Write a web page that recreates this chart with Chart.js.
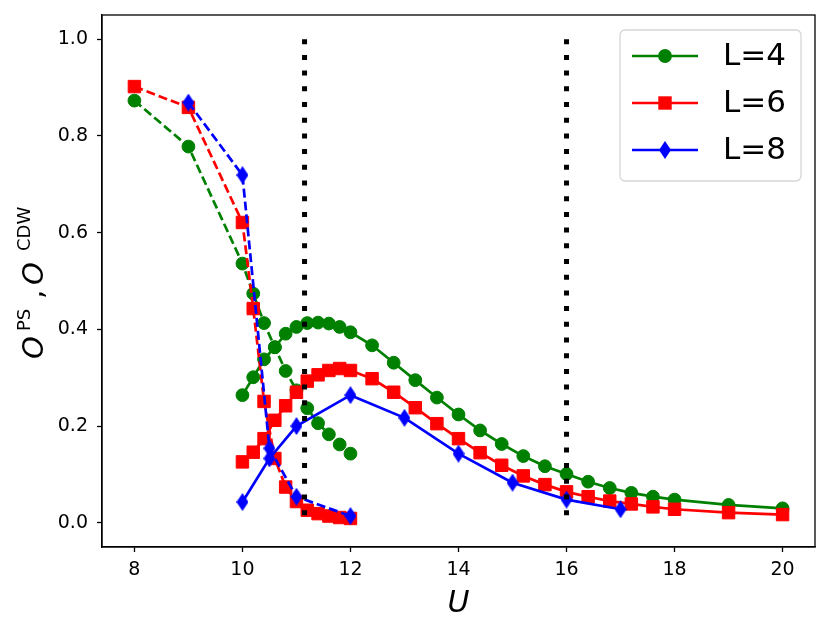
<!DOCTYPE html>
<html>
<head>
<meta charset="utf-8">
<script src="https://cdn.jsdelivr.net/npm/chart.js@4.4.1/dist/chart.umd.min.js"></script>
<style>
  html, body { margin: 0; padding: 0; background: #fff; }
  #wrap { width: 831px; height: 634px; }
</style>
</head>
<body>
<div id="wrap"><canvas id="chart" width="831" height="634"></canvas></div>
<script>
// x ticks / y ticks
const xTicks = [8, 10, 12, 14, 16, 18, 20];
const yTicks = [0.0, 0.2, 0.4, 0.6, 0.8, 1.0];

// L=4
const l4SolidU = [10, 10.2, 10.4, 10.6, 10.8, 11, 11.2, 11.4, 11.6, 11.8, 12, 12.4, 12.8, 13.2, 13.6, 14, 14.4, 14.8, 15.2, 15.6, 16, 16.4, 16.8, 17.2, 17.6, 18, 19, 20];
const l4SolidO = [0.264, 0.301, 0.338, 0.363, 0.391, 0.405, 0.413, 0.414, 0.412, 0.405, 0.394, 0.367, 0.331, 0.295, 0.259, 0.224, 0.191, 0.163, 0.138, 0.117, 0.101, 0.085, 0.072, 0.062, 0.054, 0.048, 0.037, 0.030];
const l4DashU = [8, 9, 10, 10.2, 10.4, 10.6, 10.8, 11, 11.2, 11.4, 11.6, 11.8, 12];
const l4DashO = [0.873, 0.778, 0.536, 0.474, 0.413, 0.363, 0.314, 0.274, 0.237, 0.206, 0.183, 0.162, 0.143];

// L=6
const l6SolidU = [10, 10.2, 10.4, 10.6, 10.8, 11, 11.2, 11.4, 11.6, 11.8, 12, 12.4, 12.8, 13.2, 13.6, 14, 14.4, 14.8, 15.2, 15.6, 16, 16.4, 16.8, 17.2, 17.6, 18, 19, 20];
const l6SolidO = [0.126, 0.146, 0.174, 0.212, 0.242, 0.270, 0.293, 0.306, 0.315, 0.319, 0.315, 0.298, 0.270, 0.238, 0.205, 0.174, 0.145, 0.119, 0.097, 0.079, 0.064, 0.054, 0.045, 0.039, 0.033, 0.028, 0.021, 0.017];
const l6DashU = [8, 9, 10, 10.2, 10.4, 10.6, 10.8, 11, 11.2, 11.4, 11.6, 11.8, 12];
const l6DashO = [0.902, 0.859, 0.621, 0.443, 0.251, 0.133, 0.074, 0.044, 0.026, 0.019, 0.014, 0.011, 0.009];

// L=8
const l8SolidU = [10, 10.5, 11, 12, 13, 14, 15, 16, 17];
const l8SolidO = [0.043, 0.133, 0.200, 0.264, 0.217, 0.143, 0.083, 0.048, 0.028];
const l8DashU = [9, 10, 10.5, 11, 12];
const l8DashO = [0.869, 0.719, 0.154, 0.054, 0.014];

// vertical markers
const markerU = [11.15, 16];

const GREEN = "#008000", RED = "#ff0000", BLUE = "#0000ff";

function pts(xs, ys) {
  return xs.map((x, i) => ({ x: x, y: ys[i] }));
}

// thin diamond marker like matplotlib "d"
function thinDiamond(color, w, h) {
  const c = document.createElement("canvas");
  c.width = w; c.height = h;
  const g = c.getContext("2d");
  g.fillStyle = color;
  g.beginPath();
  g.moveTo(w / 2, 0);
  g.lineTo(w, h / 2);
  g.lineTo(w / 2, h);
  g.lineTo(0, h / 2);
  g.closePath();
  g.fill();
  return c;
}
const diamondImg = thinDiamond(BLUE, 12, 18);

function series(xs, ys, color, style, dashed, order, label) {
  return {
    label: label || "",
    data: pts(xs, ys),
    showLine: true,
    borderColor: color,
    backgroundColor: color,
    borderWidth: 2.7,
    borderDash: dashed ? [9, 4] : [],
    pointStyle: style,
    pointRadius: style === "rect" ? 8.8 : 6.4,
    pointHoverRadius: style === "rect" ? 8.8 : 6.4,
    pointBorderWidth: 1,
    pointBorderColor: color,
    pointBackgroundColor: color,
    tension: 0,
    order: order
  };
}

const datasets = [];
markerU.forEach(u => {
  datasets.push({
    label: "",
    data: [{ x: u, y: 1.0 }, { x: u, y: 0.0 }],
    showLine: true,
    borderColor: "#000",
    borderWidth: 5,
    borderDash: [5, 10.7],
    borderCapStyle: "butt",
    pointRadius: 0,
    order: 0
  });
});
datasets.push(series(l8SolidU, l8SolidO, BLUE, diamondImg, false, 1, "L=8"));
datasets.push(series(l8DashU, l8DashO, BLUE, diamondImg, true, 1));
datasets.push(series(l6SolidU, l6SolidO, RED, "rect", false, 2, "L=6"));
datasets.push(series(l6DashU, l6DashO, RED, "rect", true, 2));
datasets.push(series(l4SolidU, l4SolidO, GREEN, "circle", false, 3, "L=4"));
datasets.push(series(l4DashU, l4DashO, GREEN, "circle", true, 3));

const legendItems = [
  { text: "L=4", color: GREEN, marker: "circle" },
  { text: "L=6", color: RED, marker: "rect" },
  { text: "L=8", color: BLUE, marker: "diamond" }
];

const framePlugin = {
  id: "frame",
  afterDraw(chart) {
    const ctx = chart.ctx;
    const a = chart.chartArea;
    ctx.save();
    // axes box
    ctx.strokeStyle = "#000";
    ctx.lineWidth = 1.3;
    ctx.strokeRect(a.left, a.top, a.right - a.left, a.bottom - a.top);

    // legend
    const bx = 620, by = 30, bw = 181, bh = 151, r = 5;
    ctx.beginPath();
    ctx.moveTo(bx + r, by);
    ctx.arcTo(bx + bw, by, bx + bw, by + bh, r);
    ctx.arcTo(bx + bw, by + bh, bx, by + bh, r);
    ctx.arcTo(bx, by + bh, bx, by, r);
    ctx.arcTo(bx, by, bx + bw, by, r);
    ctx.closePath();
    ctx.fillStyle = "rgba(255,255,255,0.8)";
    ctx.fill();
    ctx.strokeStyle = "#d6d6d6";
    ctx.lineWidth = 1.3;
    ctx.stroke();

    const rows = [56, 103, 150];
    legendItems.forEach((it, i) => {
      const y = rows[i];
      ctx.strokeStyle = it.color;
      ctx.fillStyle = it.color;
      ctx.lineWidth = 2.7;
      ctx.setLineDash([]);
      ctx.beginPath();
      ctx.moveTo(632, y);
      ctx.lineTo(698, y);
      ctx.stroke();
      if (it.marker === "circle") {
        ctx.beginPath();
        ctx.arc(665, y, 6.9, 0, Math.PI * 2);
        ctx.fill();
      } else if (it.marker === "rect") {
        ctx.fillRect(665 - 6.7, y - 6.7, 13.4, 13.4);
      } else {
        ctx.drawImage(diamondImg, 665 - 6, y - 9);
      }
      ctx.fillStyle = "#000";
      ctx.font = "31px 'DejaVu Sans'";
      ctx.textAlign = "left";
      ctx.textBaseline = "middle";
      ctx.fillText(it.text, 723, y + 1);
    });

    // x title
    ctx.fillStyle = "#000";
    ctx.font = "italic 30px 'DejaVu Sans'";
    ctx.textAlign = "center";
    ctx.textBaseline = "alphabetic";
    ctx.fillText("U", (a.left + a.right) / 2, 612);

    // y title with superscripts
    ctx.translate(43.3, 358);
    ctx.rotate(-Math.PI / 2);
    ctx.textAlign = "left";
    const parts = [
      { t: "O", f: "italic 29px 'DejaVu Sans'", x: -1, dy: 0 },
      { t: "PS", f: "18px 'DejaVu Sans'", x: 27, dy: -13 },
      { t: ",", f: "29px 'DejaVu Sans'", x: 59, dy: 0 },
      { t: "O", f: "italic 29px 'DejaVu Sans'", x: 73, dy: 0 },
      { t: "CDW", f: "18px 'DejaVu Sans'", x: 107, dy: -13 }
    ];
    parts.forEach(p => {
      ctx.font = p.f;
      ctx.fillText(p.t, p.x, p.dy);
    });
    ctx.restore();
  }
};

const tickFont = { family: "'DejaVu Sans'", size: 19 };

new Chart(document.getElementById("chart"), {
  type: "scatter",
  data: { datasets },
  options: {
    responsive: false,
    animation: false,
    layout: { padding: { left: 0, right: 16, top: 15, bottom: 0 } },
    plugins: {
      legend: { display: false },
      tooltip: { enabled: false }
    },
    scales: {
      x: {
        type: "linear",
        min: 7.4,
        max: 20.6,
        afterBuildTicks: s => { s.ticks = xTicks.map(v => ({ value: v })); },
        afterFit: s => { s.height = 87; s.paddingLeft = 0; s.paddingRight = 0; },
        grid: { drawOnChartArea: false, drawTicks: true, tickLength: 5, tickColor: "#000", tickWidth: 1.3 },
        border: { display: true, color: "#000", width: 1.3 },
        ticks: { color: "#000", font: tickFont, padding: 7, maxRotation: 0, callback: v => String(v) }
      },
      y: {
        type: "linear",
        min: -0.05,
        max: 1.05,
        afterBuildTicks: s => { s.ticks = yTicks.map(v => ({ value: v })); },
        afterFit: s => { s.width = 102; s.paddingTop = 0; s.paddingBottom = 0; },
        grid: { drawOnChartArea: false, drawTicks: true, tickLength: 5, tickColor: "#000", tickWidth: 1.3 },
        border: { display: true, color: "#000", width: 1.3 },
        ticks: { color: "#000", font: tickFont, padding: 9, callback: v => v.toFixed(1) }
      }
    }
  },
  plugins: [framePlugin]
});
</script>
</body>
</html>
